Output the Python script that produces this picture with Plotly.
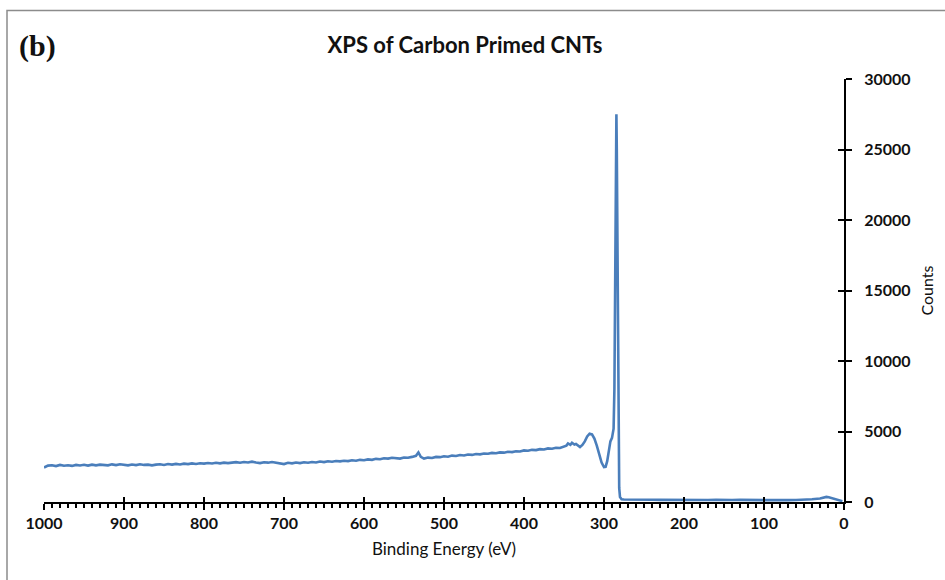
import plotly.graph_objects as go

# Binding energy (eV) and counts
energy = [
    1000, 995, 990, 985, 980, 975, 970, 965, 960, 955, 950, 945, 940, 935, 930, 925, 920, 915, 910, 905,
    900, 895, 890, 885, 880, 875, 870, 865, 860, 855, 850, 845, 840, 835, 830, 825, 820, 815, 810, 805,
    800, 795, 790, 785, 780, 775, 770, 765, 760, 755, 750, 745, 740, 735, 730, 725, 720, 715, 710, 705,
    700, 695, 690, 685, 680, 675, 670, 665, 660, 655, 650, 645, 640, 635, 630, 625, 620, 615, 610, 605,
    600, 595, 590, 585, 580, 575, 570, 565, 560, 555, 550, 545, 540, 535, 532, 529, 525, 520, 515, 510,
    505, 500, 495, 490, 485, 480, 475, 470, 465, 460, 455, 450, 445, 440, 435, 430, 425, 420, 415, 410,
    405, 400, 395, 390, 385, 380, 375, 370, 365, 360, 355, 350, 347, 345, 342, 340, 337, 335, 332, 330,
    327, 324, 321, 318, 315, 312, 309, 306, 303, 300, 298, 296, 294, 292, 290, 288, 287, 286, 285.5, 285,
    284.5, 284, 283.5, 283, 282.5, 282, 281, 280, 278, 275, 270, 260, 250, 240, 230, 220, 210, 200, 190,
    180, 170, 160, 150, 140, 130, 120, 110, 100, 90, 80, 70, 60, 50, 40, 30, 25, 22, 19, 16,
    13, 10, 7, 4, 2, 0,
]
counts = [
    2450, 2580, 2610, 2550, 2630, 2570, 2610, 2560, 2630, 2590, 2640, 2580, 2650, 2600, 2650, 2610, 2600, 2670, 2620, 2680,
    2640, 2600, 2660, 2620, 2680, 2630, 2650, 2600, 2650, 2680, 2630, 2690, 2650, 2700, 2660, 2720, 2690, 2740, 2700, 2750,
    2720, 2760, 2730, 2780, 2740, 2790, 2760, 2800, 2830, 2780, 2840, 2800, 2860, 2800, 2760, 2820, 2790, 2840, 2790, 2760,
    2690, 2780, 2740, 2800, 2760, 2820, 2780, 2840, 2800, 2870, 2830, 2890, 2860, 2910, 2880, 2930, 2900, 2960, 2930, 2990,
    2960, 3020, 2990, 3060, 3030, 3100, 3080, 3140, 3120, 3080, 3160, 3140, 3200, 3280, 3520, 3200, 3080, 3150, 3120, 3200,
    3180, 3240, 3210, 3290, 3260, 3330, 3300, 3370, 3340, 3400, 3380, 3440, 3420, 3480, 3460, 3520, 3500, 3560, 3540, 3600,
    3580, 3660, 3640, 3700, 3680, 3750, 3720, 3800, 3780, 3850, 3830, 3920, 4000, 4150, 4050, 4200, 4080, 4120, 3980, 3900,
    4050, 4300, 4650, 4850, 4800, 4500, 4000, 3400, 2800, 2480, 2500, 2900, 3700, 4300, 4550, 5200, 8000, 15000, 22000, 26000,
    27500, 25000, 20000, 13000, 7000, 3500, 1000, 350, 200, 180, 170, 160, 150, 160, 150, 140, 150, 160, 140,
    150, 140, 150, 130, 140, 150, 130, 140, 130, 140, 120, 130, 140, 150, 190, 250, 330, 360, 340,
    290, 200, 140, 100, 80, 60,
]

x_ticks = [1000, 900, 800, 700, 600, 500, 400, 300, 200, 100, 0]
y_ticks = [0, 5000, 10000, 15000, 20000, 25000, 30000]

W, H = 945, 580
L, R, T, B = 44, 101, 79, 78
pw, ph = W - L - R, H - T - B

fig = go.Figure()
fig.add_trace(go.Scatter(
    x=energy, y=counts, mode="lines",
    line=dict(color="#4a7ebb", width=2.6),
    showlegend=False, hoverinfo="skip",
))
# empty trace to activate overlay axes (inner tick halves)
fig.add_trace(go.Scatter(x=[None], y=[None], xaxis="x2", yaxis="y2",
                         showlegend=False, hoverinfo="skip"))

fig.update_layout(
    width=W, height=H,
    margin=dict(l=L, r=R, t=T, b=B, pad=0),
    paper_bgcolor="white", plot_bgcolor="white",
    font=dict(family="Lato", color="#111111"),
    title=dict(
        text="<b>XPS of Carbon Primed CNTs</b>",
        x=465 / W, xref="container", xanchor="center",
        y=1 - 45 / H, yref="container", yanchor="middle",
        font=dict(family="Lato", size=22, color="#111111"),
    ),
    xaxis=dict(
        range=[1000, 0], tickvals=x_ticks, ticktext=[str(v) for v in x_ticks],
        showgrid=False, zeroline=False,
        showline=True, linecolor="black", linewidth=2,
        ticks="outside", ticklen=6, tickwidth=2, tickcolor="black",
        minor=dict(ticks="outside", dtick=10, ticklen=4, tickwidth=1.5, tickcolor="black"),
        tickfont=dict(family="Lato", size=16, color="#111111", weight="bold"),
        title=dict(text="Binding Energy (eV)", standoff=12,
                   font=dict(family="Lato", size=17, color="#111111")),
        anchor="y",
    ),
    yaxis=dict(
        range=[0, 30000], tickvals=y_ticks, ticktext=[str(v) for v in y_ticks],
        side="right", showgrid=False, zeroline=False,
        showline=True, linecolor="black", linewidth=2,
        ticks="outside", ticklen=6, tickwidth=2, tickcolor="black",
        ticklabelstandoff=9,
        tickfont=dict(family="Lato", size=16, color="#111111", weight="bold"),
        title=dict(text="Counts", standoff=12,
                   font=dict(family="Lato", size=16, color="#111111")),
        anchor="x",
    ),
    xaxis2=dict(
        range=[1000, 0], overlaying="x", anchor="y2", side="bottom",
        tickvals=x_ticks, showticklabels=False, showgrid=False, zeroline=False,
        ticks="inside", ticklen=5, tickwidth=2, tickcolor="black",
    ),
    yaxis2=dict(
        range=[0, 30000], overlaying="y", anchor="x2", side="right",
        tickvals=y_ticks, showticklabels=False, showgrid=False, zeroline=False,
        ticks="inside", ticklen=6, tickwidth=2, tickcolor="black",
    ),
    shapes=[dict(
        type="rect", xref="paper", yref="paper",
        x0=(7 - L) / pw, x1=(W + 20 - L) / pw,
        y0=-(H + 20 - (T + ph)) / ph, y1=(T + ph - 10.5) / ph,
        line=dict(color="#8c8c8c", width=1.5), fillcolor="rgba(0,0,0,0)", layer="below",
    )],
    annotations=[dict(
        text="<b>(b)</b>", xref="paper", yref="paper",
        x=(17 - L) / pw, xanchor="left",
        y=(T + ph - 46) / ph, yanchor="middle",
        showarrow=False,
        font=dict(family="Liberation Serif", size=30, color="#111111"),
    )],
)

fig.write_html("out.html")
